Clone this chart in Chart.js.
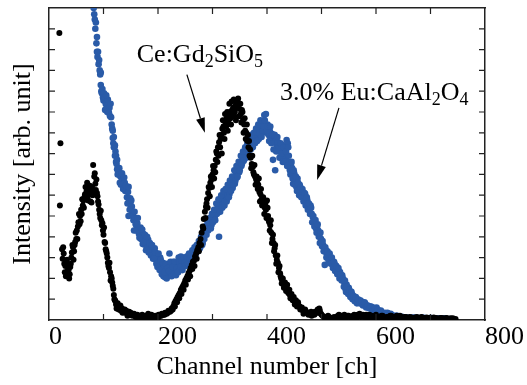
<!DOCTYPE html>
<html>
<head>
<meta charset="utf-8">
<script src="https://cdn.jsdelivr.net/npm/chart.js@4/dist/chart.umd.min.js"></script>
<style>
  body { margin: 0; background: #fff; }
  canvas { display: block; }
</style>
</head>
<body>
<canvas id="spectrumChart" width="527" height="385"></canvas>
<script>
// Ce:Gd2SiO5 pulse height spectrum (black)
const ceChannel = [19, 21, 20, 24, 25, 27, 28, 30, 32, 34, 36, 38, 39, 41, 42, 44, 46, 48, 50, 51, 53, 54, 56, 57, 59, 60, 62, 63, 65, 66, 68, 69, 71, 72, 74, 75, 77, 78, 80, 81, 83, 84, 85, 86, 88, 90, 91, 93, 94, 96, 97, 99, 100, 102, 103, 105, 106, 108, 110, 112, 114, 115, 117, 118, 120, 121, 123, 125, 127, 130, 132, 134, 137, 140, 142, 145, 148, 150, 153, 156, 159, 162, 165, 168, 171, 174, 177, 180, 183, 186, 189, 192, 195, 198, 201, 204, 207, 210, 213, 216, 219, 222, 225, 228, 230, 232, 234, 236, 238, 240, 242, 244, 246, 248, 250, 252, 254, 256, 258, 260, 262, 264, 266, 268, 270, 272, 274, 276, 278, 280, 282, 284, 286, 288, 290, 292, 294, 296, 298, 300, 302, 304, 306, 308, 310, 312, 314, 316, 318, 320, 322, 324, 326, 328, 330, 332, 334, 336, 338, 340, 342, 344, 346, 348, 350, 352, 354, 356, 358, 360, 362, 364, 366, 368, 370, 372, 374, 376, 378, 380, 382, 384, 386, 388, 390, 392, 394, 396, 398, 400, 402, 404, 406, 408, 410, 412, 414, 416, 418, 420, 422, 424, 426, 428, 430, 432, 434, 436, 438, 440, 442, 444, 446, 448, 450, 452, 454, 456, 458, 460, 463, 466, 469, 472, 475, 478, 481, 484, 487, 490, 493, 496, 499, 502, 505, 508, 511, 514, 517, 520, 523, 526, 530, 534, 538, 542, 546, 550, 554, 558, 562, 566, 570, 574, 578, 582, 586, 590, 594, 598, 602, 606, 610, 614, 618, 622, 626, 630, 634, 638, 642, 646, 650, 655, 660, 665, 670, 675, 680, 685, 690, 695, 700, 706, 712, 718, 724, 730, 737, 746];
const ceIntensity = [13.8, 8.5, 5.5, 3.4, 2.95, 3.2, 2.7, 2.6, 2.75, 2.35, 2.4, 2.2, 2.55, 3.0, 3.25, 3.5, 3.3, 3.75, 3.9, 4.3, 4.5, 4.7, 4.6, 5.0, 5.3, 5.1, 5.5, 5.75, 5.9, 6.05, 5.8, 6.2, 5.95, 5.75, 6.3, 6.45, 6.1, 5.65, 6.0, 7.45, 6.9, 7.05, 6.55, 6.25, 6.1, 5.7, 5.55, 5.1, 4.9, 4.8, 4.55, 4.3, 4.1, 3.75, 3.7, 3.3, 3.2, 2.75, 2.5, 2.3, 2.1, 2.0, 1.65, 1.5, 1.0, 0.95, 0.75, 0.7, 0.6, 0.6, 0.45, 0.55, 0.4, 0.35, 0.45, 0.3, 0.25, 0.35, 0.2, 0.3, 0.15, 0.25, 0.2, 0.1, 0.25, 0.15, 0.2, 0.1, 0.2, 0.1, 0.15, 0.05, 0.2, 0.15, 0.25, 0.2, 0.3, 0.25, 0.35, 0.3, 0.45, 0.4, 0.55, 0.65, 0.8, 0.9, 1.0, 1.1, 1.2, 1.3, 1.45, 1.55, 1.65, 1.75, 1.9, 2.0, 2.1, 2.25, 2.35, 2.5, 2.65, 2.8, 2.85, 3.05, 3.2, 3.35, 3.5, 3.7, 3.9, 4.2, 4.5, 4.85, 5.2, 5.45, 5.8, 6.1, 6.35, 6.6, 6.75, 7.0, 7.2, 7.4, 7.7, 8.0, 8.3, 8.55, 8.3, 8.9, 9.2, 9.3, 8.7, 9.5, 9.7, 9.1, 9.8, 10.0, 9.4, 10.1, 10.2, 9.8, 10.3, 10.45, 10.5, 10.4, 10.15, 9.9, 10.1, 9.6, 9.4, 9.1, 9.0, 8.6, 8.3, 7.9, 7.8, 7.5, 7.35, 7.0, 6.9, 6.75, 6.6, 6.5, 6.15, 6.05, 5.8, 5.75, 5.6, 5.4, 5.3, 5.75, 5.0, 4.7, 4.55, 4.2, 3.9, 3.7, 3.45, 3.1, 2.9, 2.75, 2.5, 2.25, 2.0, 1.9, 1.75, 1.65, 1.6, 1.55, 1.45, 1.3, 1.2, 1.15, 1.1, 1.05, 0.9, 0.85, 0.8, 0.75, 0.7, 0.65, 0.55, 0.45, 0.4, 0.4, 0.35, 0.3, 0.4, 0.3, 0.25, 0.35, 0.5, 0.55, 0.3, 0.2, 0.15, 0.15, 0.1, 0.15, 0.1, 0.08, 0.15, 0.12, 0.2, 0.1, 0.15, 0.25, 0.15, 0.2, 0.1, 0.2, 0.15, 0.25, 0.3, 0.2, 0.15, 0.25, 0.2, 0.15, 0.1, 0.2, 0.15, 0.1, 0.2, 0.15, 0.1, 0.15, 0.2, 0.1, 0.15, 0.2, 0.1, 0.15, 0.1, 0.15, 0.1, 0.12, 0.1, 0.15, 0.08, 0.12, 0.1, 0.1, 0.08, 0.12, 0.08, 0.1, 0.06, 0.1, 0.08, 0.05];
// second sweep of the same spectrum (scatter of the counts), [channel, intensity]
const ceExtraPoints = [[26, 3.5], [29, 2.3], [31, 2.1], [33, 2.9], [37, 2.0], [40, 2.7], [43, 3.6], [45, 2.9], [47, 3.6], [49, 4.2], [52, 3.9], [55, 5.1], [58, 4.75], [61, 5.8], [64, 5.4], [67, 6.4], [70, 6.6], [73, 6.05], [76, 5.7], [79, 6.4], [82, 6.2], [87, 6.75], [89, 5.95], [92, 5.3], [95, 5.25], [98, 4.65], [101, 4.45], [104, 3.4], [107, 3.0], [109, 2.6], [111, 2.75], [113, 1.9], [116, 1.8], [119, 1.2], [122, 0.9], [124, 0.55], [126, 0.8], [128, 0.5], [131, 0.7], [135, 0.35], [139, 0.5], [144, 0.2], [147, 0.4], [152, 0.3], [158, 0.25], [163, 0.1], [170, 0.15], [176, 0.1], [182, 0.3], [188, 0.25], [194, 0.15], [200, 0.1], [206, 0.2], [212, 0.25], [218, 0.35], [224, 0.45], [227, 0.5], [231, 0.65], [235, 0.85], [239, 1.05], [243, 1.25], [247, 1.45], [251, 1.7], [255, 1.95], [259, 2.1], [263, 2.45], [267, 2.6], [271, 2.95], [275, 3.3], [279, 3.6], [283, 4.4], [287, 4.9], [289, 5.6], [291, 5.4], [293, 6.4], [295, 5.95], [297, 6.9], [299, 6.4], [301, 7.4], [303, 6.8], [305, 7.1], [307, 8.1], [309, 7.6], [311, 7.9], [313, 8.9], [315, 8.7], [317, 8.0], [319, 9.6], [321, 9.0], [323, 9.9], [325, 9.3], [327, 10.0], [329, 9.5], [331, 10.4], [333, 9.7], [335, 10.5], [337, 9.9], [339, 10.6], [341, 10.0], [343, 9.6], [345, 10.2], [347, 10.65], [349, 9.8], [351, 10.4], [353, 9.5], [355, 10.0], [357, 9.0], [359, 9.7], [361, 8.7], [363, 9.4], [365, 8.9], [367, 8.6], [369, 8.2], [371, 7.3], [373, 7.9], [375, 7.1], [377, 7.45], [379, 6.5], [381, 6.9], [383, 6.3], [385, 6.8], [387, 5.7], [389, 6.3], [391, 5.5], [393, 5.9], [395, 5.1], [397, 5.6], [399, 4.9], [401, 5.4], [403, 4.8], [405, 4.3], [407, 4.8], [409, 3.7], [411, 4.1], [413, 3.3], [415, 3.6], [417, 2.7], [419, 3.1], [421, 2.3], [423, 2.6], [425, 2.1], [427, 1.75], [429, 2.0], [431, 1.55], [433, 1.8], [435, 1.4], [437, 1.7], [439, 1.3], [441, 1.45], [443, 1.05], [445, 1.25], [447, 0.95], [449, 1.1], [451, 0.75], [453, 0.95], [455, 0.65], [457, 0.85], [461, 0.5], [464, 0.6], [467, 0.3], [470, 0.5], [476, 0.25], [482, 0.2], [488, 0.4], [494, 0.35], [497, 0.45], [500, 0.25], [506, 0.1], [512, 0.2], [518, 0.05], [524, 0.1], [528, 0.15], [532, 0.25], [536, 0.2], [544, 0.1], [548, 0.2], [556, 0.15], [560, 0.25], [564, 0.1], [568, 0.2], [572, 0.15], [576, 0.25], [580, 0.2], [584, 0.1], [588, 0.25], [592, 0.2], [596, 0.15], [600, 0.25], [604, 0.1], [608, 0.15], [612, 0.2], [616, 0.1], [620, 0.15], [624, 0.1], [628, 0.2], [632, 0.15], [636, 0.1], [640, 0.15], [644, 0.2], [648, 0.1], [652, 0.15], [658, 0.1], [662, 0.15], [668, 0.08], [672, 0.12], [678, 0.1], [683, 0.15], [688, 0.08], [693, 0.12], [698, 0.1], [703, 0.06], [709, 0.1], [715, 0.05], [721, 0.1], [727, 0.08], [734, 0.05], [741, 0.08]];

// 3.0% Eu:CaAl2O4 pulse height spectrum (blue)
const euChannel = [82, 83, 84, 86, 87, 88, 89, 91, 93, 94, 95, 96, 97, 99, 100, 102, 104, 106, 108, 109, 111, 112, 114, 116, 117, 118, 119, 120, 121, 122, 123, 124, 125, 127, 128, 130, 131, 133, 135, 137, 139, 140, 142, 143, 145, 146, 147, 149, 150, 152, 153, 155, 156, 158, 159, 161, 162, 164, 165, 167, 169, 170, 172, 173, 175, 177, 179, 181, 182, 184, 186, 188, 190, 192, 194, 196, 198, 200, 202, 204, 206, 208, 210, 211, 213, 215, 217, 219, 221, 222, 224, 226, 228, 230, 232, 234, 236, 238, 240, 242, 244, 246, 248, 250, 252, 254, 256, 258, 260, 262, 264, 266, 268, 270, 272, 274, 276, 278, 280, 282, 284, 286, 288, 290, 292, 294, 296, 298, 300, 302, 304, 306, 308, 310, 312, 313, 315, 317, 319, 321, 323, 325, 327, 329, 331, 333, 335, 337, 339, 341, 343, 345, 347, 349, 351, 353, 355, 357, 359, 361, 363, 365, 367, 369, 371, 373, 375, 377, 379, 381, 383, 385, 387, 389, 391, 393, 395, 397, 399, 401, 403, 405, 407, 409, 411, 413, 415, 416, 418, 420, 422, 424, 426, 428, 430, 432, 434, 436, 438, 440, 442, 444, 446, 448, 450, 452, 454, 456, 458, 460, 462, 464, 466, 468, 470, 472, 474, 476, 478, 480, 482, 484, 486, 488, 490, 492, 494, 496, 497, 499, 501, 503, 505, 506, 508, 510, 512, 514, 516, 518, 520, 522, 524, 526, 528, 530, 532, 534, 536, 538, 540, 542, 544, 546, 548, 550, 552, 554, 556, 558, 560, 562, 564, 566, 568, 571, 574, 577, 580, 583, 586, 589, 592, 595, 598, 601, 604, 607, 610, 613, 616, 619, 622, 625, 628, 631, 634, 637, 640, 644, 648, 652, 656, 660, 664, 668, 672, 676, 680, 685, 690, 695, 700, 705, 710, 715, 720, 725, 730, 735];
const euIntensity = [15.0, 14.7, 14.45, 14.3, 13.3, 12.9, 12.65, 12.3, 12.0, 11.8, 11.3, 11.0, 10.9, 10.7, 10.55, 10.7, 10.4, 10.3, 10.6, 10.05, 10.2, 9.8, 9.75, 9.2, 8.75, 8.5, 8.8, 8.3, 7.9, 8.1, 7.6, 7.5, 7.25, 7.2, 7.0, 6.6, 6.9, 6.85, 6.7, 6.55, 6.6, 6.2, 6.3, 5.9, 6.15, 5.0, 5.75, 5.85, 5.5, 5.45, 5.15, 4.8, 4.3, 4.9, 4.6, 4.5, 4.65, 4.3, 4.15, 4.2, 3.9, 4.0, 3.65, 4.15, 3.9, 3.6, 3.75, 3.55, 3.85, 3.5, 3.4, 3.3, 3.45, 3.2, 3.45, 2.95, 2.85, 3.05, 2.75, 3.0, 2.6, 2.35, 2.1, 2.55, 2.05, 2.45, 2.2, 2.7, 3.2, 2.15, 2.6, 2.25, 2.8, 2.4, 2.6, 2.35, 2.75, 3.0, 2.7, 3.05, 2.5, 2.85, 2.65, 2.95, 2.8, 2.9, 3.1, 2.85, 3.05, 3.2, 3.15, 3.3, 3.25, 3.4, 3.5, 3.35, 3.65, 3.55, 3.8, 3.7, 4.0, 4.2, 4.35, 4.5, 4.3, 4.6, 4.75, 4.55, 4.85, 5.0, 4.9, 5.3, 5.1, 5.45, 4.0, 5.6, 5.4, 5.75, 5.55, 5.9, 5.7, 6.1, 5.85, 6.3, 6.05, 6.4, 6.6, 6.35, 6.75, 6.55, 7.0, 6.85, 7.3, 7.1, 7.55, 7.4, 7.8, 7.65, 8.0, 7.9, 8.2, 8.0, 8.4, 8.25, 8.6, 8.45, 8.8, 8.6, 9.0, 8.85, 9.15, 8.7, 9.3, 8.9, 9.25, 9.5, 9.85, 9.3, 9.0, 9.4, 8.9, 9.1, 8.7, 8.95, 7.7, 8.6, 7.2, 8.7, 8.4, 8.55, 8.1, 8.35, 7.85, 8.2, 8.4, 8.0, 7.75, 8.65, 8.5, 7.9, 7.2, 7.5, 7.3, 6.55, 7.05, 6.7, 6.4, 6.8, 6.3, 6.5, 6.2, 6.0, 6.15, 5.9, 6.05, 5.6, 5.75, 5.45, 5.3, 5.5, 5.1, 4.95, 4.8, 4.6, 4.4, 4.5, 4.3, 4.05, 3.7, 3.9, 3.55, 3.6, 3.4, 2.65, 3.35, 3.15, 3.2, 3.0, 2.95, 2.8, 2.85, 2.65, 2.7, 2.5, 2.55, 2.4, 2.35, 2.3, 2.1, 2.15, 1.95, 1.8, 1.5, 1.7, 1.45, 1.55, 1.35, 1.2, 1.25, 1.1, 1.0, 1.05, 0.95, 0.9, 0.85, 0.95, 0.8, 0.75, 0.8, 0.7, 0.6, 0.65, 0.55, 0.6, 0.5, 0.6, 0.45, 0.4, 0.35, 0.3, 0.35, 0.25, 0.3, 0.2, 0.25, 0.2, 0.15, 0.2, 0.15, 0.1, 0.15, 0.1, 0.12, 0.08, 0.1, 0.12, 0.08, 0.1, 0.05, 0.1, 0.08, 0.06, 0.1, 0.05, 0.08, 0.06, 0.05, 0.08, 0.05, 0.04];
const euExtraPoints = [[85, 14.0], [88, 13.6], [90, 12.9], [92, 12.5], [95, 11.9], [98, 11.1], [101, 10.9], [103, 10.1], [105, 10.8], [107, 10.0], [110, 9.95], [113, 10.4], [115, 9.4], [117, 9.1], [119, 8.3], [121, 8.4], [123, 7.9], [125, 7.7], [126, 7.0], [129, 7.3], [132, 6.5], [134, 7.05], [136, 6.3], [138, 6.85], [141, 6.45], [144, 5.6], [146, 6.4], [148, 5.3], [151, 5.75], [154, 5.0], [157, 5.2], [160, 4.3], [163, 4.9], [166, 3.95], [168, 4.45], [171, 4.35], [174, 3.75], [176, 4.1], [178, 3.35], [180, 4.0], [183, 3.25], [185, 3.7], [187, 3.1], [189, 3.6], [191, 2.95], [193, 3.0], [195, 3.25], [197, 2.7], [199, 2.55], [201, 3.2], [203, 2.4], [205, 2.9], [207, 2.2], [209, 2.75], [212, 2.3], [214, 2.7], [216, 2.0], [218, 2.5], [220, 2.35], [223, 2.8], [225, 2.1], [227, 2.55], [229, 2.2], [231, 2.8], [233, 2.15], [235, 2.5], [237, 2.3], [239, 2.8], [241, 2.55], [243, 2.85], [245, 2.4], [247, 3.0], [249, 2.75], [251, 2.6], [253, 3.05], [255, 2.7], [257, 3.2], [259, 2.95], [261, 2.9], [263, 3.35], [265, 3.05], [267, 3.5], [269, 3.15], [271, 3.6], [273, 3.3], [275, 3.8], [277, 3.45], [279, 4.0], [281, 3.6], [283, 4.3], [285, 3.9], [287, 4.5], [289, 4.1], [291, 4.7], [293, 4.4], [295, 4.9], [297, 4.4], [299, 5.1], [301, 4.7], [303, 5.3], [305, 4.8], [307, 5.6], [309, 5.3], [311, 5.8], [314, 5.2], [316, 6.0], [318, 5.4], [320, 6.2], [322, 5.5], [324, 6.3], [326, 5.7], [328, 6.5], [330, 5.9], [332, 6.7], [334, 6.2], [336, 6.9], [338, 6.5], [340, 7.2], [342, 6.7], [344, 7.4], [346, 6.9], [348, 7.6], [350, 7.2], [352, 7.9], [354, 7.5], [356, 8.1], [358, 7.7], [360, 8.3], [362, 7.8], [364, 8.5], [366, 8.0], [368, 8.7], [370, 8.2], [372, 8.9], [374, 8.3], [376, 9.0], [378, 8.5], [380, 9.2], [382, 8.6], [384, 9.4], [386, 9.0], [388, 9.6], [390, 8.8], [392, 9.1], [394, 9.3], [396, 9.6], [398, 9.9], [400, 9.1], [402, 9.3], [404, 8.6], [406, 9.3], [408, 8.5], [410, 8.9], [412, 8.2], [414, 8.9], [417, 8.1], [419, 8.8], [421, 8.3], [423, 7.8], [425, 8.5], [427, 8.0], [429, 7.6], [431, 8.3], [433, 7.6], [435, 8.1], [437, 7.4], [439, 8.3], [441, 7.6], [443, 7.0], [445, 7.6], [447, 6.8], [449, 7.2], [451, 6.5], [453, 6.9], [455, 6.2], [457, 6.6], [459, 6.0], [461, 6.4], [463, 5.9], [465, 6.3], [467, 5.7], [469, 6.1], [471, 5.5], [473, 5.9], [475, 5.3], [477, 5.6], [479, 5.1], [481, 5.4], [483, 4.7], [485, 5.0], [487, 4.5], [489, 4.8], [491, 4.2], [493, 4.6], [495, 4.0], [498, 4.2], [500, 3.7], [502, 3.8], [504, 3.3], [507, 3.5], [509, 3.0], [511, 3.3], [513, 2.85], [515, 3.2], [517, 2.7], [519, 3.0], [521, 2.5], [523, 2.8], [525, 2.35], [527, 2.6], [529, 2.2], [531, 2.5], [533, 2.0], [535, 2.2], [537, 1.9], [539, 2.0], [541, 1.6], [543, 1.9], [545, 1.35], [547, 1.6], [549, 1.25], [551, 1.45], [553, 1.1], [555, 1.35], [557, 1.0], [559, 1.15], [561, 0.9], [563, 1.1], [565, 0.8], [567, 1.0], [570, 0.8], [573, 0.9], [576, 0.7], [579, 0.85], [582, 0.6], [585, 0.7], [588, 0.55], [591, 0.65], [594, 0.45], [597, 0.55], [600, 0.4], [603, 0.5], [606, 0.35], [609, 0.45], [612, 0.25], [615, 0.3], [618, 0.2], [621, 0.35], [624, 0.15], [627, 0.3], [630, 0.15], [633, 0.2], [636, 0.1], [639, 0.2], [642, 0.12], [646, 0.08], [650, 0.12], [654, 0.06], [658, 0.1], [662, 0.05], [666, 0.08], [670, 0.1], [674, 0.05], [678, 0.08], [683, 0.06], [688, 0.1], [693, 0.05], [698, 0.08], [703, 0.06], [708, 0.04], [713, 0.06], [718, 0.08], [723, 0.04], [728, 0.06]];

const xTickLabels = [0, 200, 400, 600, 800];

const serif = "'Liberation Serif', 'Times New Roman', serif";
const frameColor = '#222';

function toPoints(xs, ys, extra) {
    const pts = xs.map((x, i) => ({ x: x, y: ys[i] }));
    extra.forEach(p => pts.push({ x: p[0], y: p[1] }));
    return pts;
}

// inward tick marks on all four sides
const tickMarks = {
    id: 'tickMarks',
    afterDraw(chart) {
        const ctx = chart.ctx;
        const area = chart.chartArea;
        const xs = chart.scales.x, ys = chart.scales.y;
        const len = 6;
        ctx.save();
        ctx.strokeStyle = frameColor;
        ctx.lineWidth = 1.2;
        ctx.beginPath();
        for (let v = 100; v < 800; v += 100) {
            const px = xs.getPixelForValue(v);
            ctx.moveTo(px, area.bottom); ctx.lineTo(px, area.bottom - len);
            ctx.moveTo(px, area.top); ctx.lineTo(px, area.top + len);
        }
        for (let v = 1; v < 15; v++) {
            const py = ys.getPixelForValue(v);
            ctx.moveTo(area.left, py); ctx.lineTo(area.left + len, py);
            ctx.moveTo(area.right, py); ctx.lineTo(area.right - len, py);
        }
        ctx.stroke();
        ctx.restore();
    }
};

// labels with subscripts and arrows, placed in data units
const notes = [
    { parts: [['Ce:Gd', 0], ['2', 1], ['SiO', 0], ['5', 1]], at: [161, 12.4], from: [253, 11.8], to: [286, 9.0] },
    { parts: [['3.0% Eu:CaAl', 0], ['2', 1], ['O', 0], ['4', 1]], at: [424, 10.58], from: [532, 10.2], to: [492, 6.73] }
];

const annotations = {
    id: 'annotations',
    afterDraw(chart) {
        const ctx = chart.ctx;
        const xs = chart.scales.x, ys = chart.scales.y;
        ctx.save();
        ctx.fillStyle = '#000';
        ctx.strokeStyle = '#000';
        ctx.textBaseline = 'alphabetic';
        notes.forEach(n => {
            let px = xs.getPixelForValue(n.at[0]);
            const py = ys.getPixelForValue(n.at[1]);
            n.parts.forEach(([txt, sub]) => {
                ctx.font = sub ? `18px ${serif}` : `26px ${serif}`;
                ctx.fillText(txt, px, sub ? py + 5 : py);
                px += ctx.measureText(txt).width;
            });
            // arrow
            const x1 = xs.getPixelForValue(n.from[0]), y1 = ys.getPixelForValue(n.from[1]);
            const x2 = xs.getPixelForValue(n.to[0]), y2 = ys.getPixelForValue(n.to[1]);
            const ang = Math.atan2(y2 - y1, x2 - x1);
            const head = 15, half = 4.5;
            ctx.lineWidth = 1.2;
            ctx.beginPath();
            ctx.moveTo(x1, y1);
            ctx.lineTo(x2 - Math.cos(ang) * head, y2 - Math.sin(ang) * head);
            ctx.stroke();
            ctx.beginPath();
            ctx.moveTo(x2, y2);
            ctx.lineTo(x2 - Math.cos(ang) * head - Math.sin(ang) * half, y2 - Math.sin(ang) * head + Math.cos(ang) * half);
            ctx.lineTo(x2 - Math.cos(ang) * head + Math.sin(ang) * half, y2 - Math.sin(ang) * head - Math.cos(ang) * half);
            ctx.closePath();
            ctx.fill();
        });
        ctx.restore();
    }
};

const ctx = document.getElementById('spectrumChart').getContext('2d');
const spectrumChart = new Chart(ctx, {
    type: 'scatter',
    data: {
        datasets: [
            {
                label: 'Ce:Gd2SiO5',
                data: toPoints(ceChannel, ceIntensity, ceExtraPoints),
                backgroundColor: '#000',
                borderWidth: 0,
                pointRadius: 3.0
            },
            {
                label: '3.0% Eu:CaAl2O4',
                data: toPoints(euChannel, euIntensity, euExtraPoints),
                backgroundColor: '#2a5ba8',
                borderWidth: 0,
                pointRadius: 3.3
            }
        ]
    },
    options: {
        responsive: false,
        animation: false,
        devicePixelRatio: 1,
        layout: { padding: 0 },
        plugins: {
            legend: { display: false },
            tooltip: { enabled: false }
        },
        scales: {
            x: {
                type: 'linear',
                position: 'bottom',
                min: 0,
                max: 800,
                afterBuildTicks: s => { s.ticks = xTickLabels.map(v => ({ value: v })); },
                ticks: {
                    align: 'start',
                    color: '#000',
                    padding: 2,
                    maxRotation: 0,
                    autoSkip: false,
                    font: { family: serif, size: 26 }
                },
                grid: { display: false, drawTicks: false },
                border: { color: frameColor, width: 1.5 },
                title: {
                    display: true,
                    text: 'Channel number [ch]',
                    color: '#000',
                    font: { family: serif, size: 26 },
                    padding: { top: 0, bottom: 2 }
                },
                afterFit: s => { s.height = 65; s.paddingLeft = 0; s.paddingRight = 0; }
            },
            xTop: {
                type: 'linear',
                position: 'top',
                min: 0,
                max: 800,
                ticks: { display: false },
                grid: { display: false, drawTicks: false },
                border: { color: frameColor, width: 1.5 },
                afterFit: s => { s.height = 8; s.paddingLeft = 0; s.paddingRight = 0; }
            },
            y: {
                type: 'linear',
                position: 'left',
                min: 0,
                max: 15,
                ticks: { display: false },
                grid: { display: false, drawTicks: false },
                border: { color: frameColor, width: 1.5 },
                title: {
                    display: true,
                    text: 'Intensity [arb. unit]',
                    color: '#000',
                    font: { family: serif, size: 26 },
                    padding: { top: 8, bottom: 0 }
                },
                afterFit: s => { s.width = 49; }
            },
            yRight: {
                type: 'linear',
                position: 'right',
                min: 0,
                max: 15,
                ticks: { display: false },
                grid: { display: false, drawTicks: false },
                border: { color: frameColor, width: 1.5 },
                afterFit: s => { s.width = 42; }
            }
        }
    },
    plugins: [tickMarks, annotations]
});
</script>
</body>
</html>
